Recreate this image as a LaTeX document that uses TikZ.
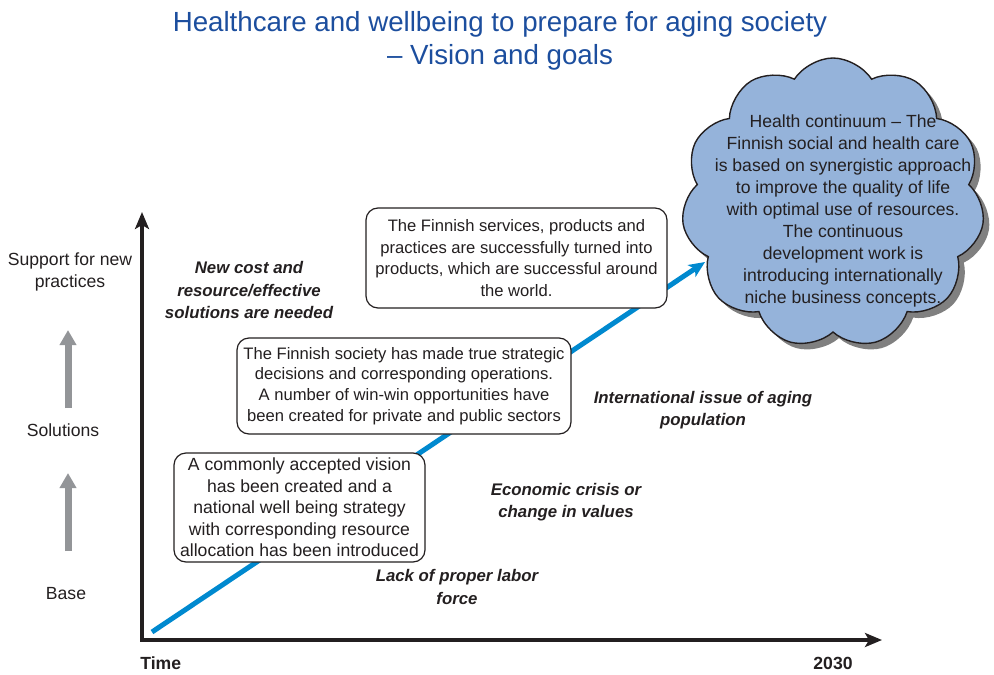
\documentclass[tikz,border=0pt]{standalone}
\usepackage{fontspec}
\setmainfont{Liberation Sans}
\usetikzlibrary{arrows.meta,shapes.symbols,shadows,positioning}
\definecolor{titleblue}{RGB}{28,78,158}
\definecolor{ink}{RGB}{35,31,32}
\definecolor{lineblue}{RGB}{0,137,207}
\definecolor{cloudblue}{RGB}{149,179,218}
\definecolor{arrowgrey}{RGB}{147,149,152}

\begin{document}
\begin{tikzpicture}[x=0.5pt, y=-0.5pt,
  txt/.style={font=\fontsize{8.8}{10.8}\selectfont, text=ink, align=center},
  note/.style={font=\fontsize{8.4}{11.2}\selectfont\bfseries\itshape, text=ink, align=center},
  box/.style={txt, draw=ink, fill=white, rounded corners=6pt, line width=0.6pt, inner sep=0pt},
  axis/.style={ink, line width=2pt, line join=miter, {Stealth[length=8.5pt,width=7pt,inset=2pt]}-{Stealth[length=8.5pt,width=7pt,inset=2pt]}},
  uparrow/.style={arrowgrey, line width=3.5pt, -{Triangle[length=7.5pt,width=8pt]}}]
  \useasboundingbox (0,0) rectangle (994,674);

  \node[font=\fontsize{13.85}{16.5}\selectfont, text=titleblue, align=center] (title) at (500,41)
    {Healthcare and wellbeing to prepare for aging society\\– Vision and goals};

  % axes
  \coordinate (ytop) at (142,212);
  \coordinate (xend) at (882,640);
  \draw[axis] (ytop) |- (xend);
  \node[txt, font=\fontsize{8.8}{10.8}\selectfont\bfseries, anchor=west, inner sep=0pt] (time) at (140,663) {Time};
  \node[txt, font=\fontsize{8.8}{10.8}\selectfont\bfseries, inner sep=0pt] (year) at (833,663) {2030};

  % levels on the left
  \node[txt] (support) at (70,272) {Support for new\\practices};
  \node[txt] (solutions) at (63,430) {Solutions};
  \node[txt] (base) at (66,594) {Base};
  \coordinate (up1s) at (68,551);
  \coordinate (up1e) at (68,473);
  \coordinate (up2s) at (68,408);
  \coordinate (up2e) at (68,330);
  \draw[uparrow] (up1s) -- (up1e);
  \draw[uparrow] (up2s) -- (up2e);

  % cloud
  \node[cloud, cloud puffs=11, cloud puff arc=115, cloud ignores aspect, draw=ink, line width=0.7pt,
    fill=cloudblue, minimum width=151.5pt, minimum height=145pt,
    drop shadow={shadow xshift=3pt, shadow yshift=-3pt, fill=black!50, opacity=1}] (cloud) at (833,203) {};
  \node[txt, font=\fontsize{8.8}{11}\selectfont] (vision) at (843,211)
    {Health continuum – The\\Finnish social and health care\\is based on synergistic approach\\to improve the quality of life\\with optimal use of resources.\\The continuous\\development work is\\introducing internationally\\niche business concepts.};

  % time line
  \coordinate (start) at (152,632);
  \coordinate (goal) at (705,262);
  \draw[lineblue, line width=2.5pt, -{Stealth[length=8pt,width=7pt,inset=2pt]}] (start) -- (goal);

  % steps
  \node[box, minimum width=125.5pt, minimum height=54.5pt] (step1) at (299.5,507.5)
    {A commonly accepted vision\\has been created and a\\national well being strategy\\with corresponding resource\\allocation has been introduced};
  \node[box, font=\fontsize{8.3}{10.4}\selectfont, minimum width=167pt, minimum height=48pt] (step2) at (404,386)
    {The Finnish society has made true strategic\\decisions and corresponding operations.\\A number of win-win opportunities have\\been created for private and public sectors};
  \node[box, font=\fontsize{8.3}{10.8}\selectfont, minimum width=150.5pt, minimum height=50pt] (step3) at (516.5,258)
    {The Finnish services, products and\\practices are successfully turned into\\products, which are successful around\\the world.};

  % drivers
  \node[note] (newcost) at (249,290) {New cost and\\resource/effective\\solutions are needed};
  \node[note] (intl) at (703,410) {International issue of aging\\population};
  \node[note] (crisis) at (566,502) {Economic crisis or\\change in values};
  \node[note] (labor) at (457,587) {Lack of proper labor\\force};
\end{tikzpicture}
\end{document}
